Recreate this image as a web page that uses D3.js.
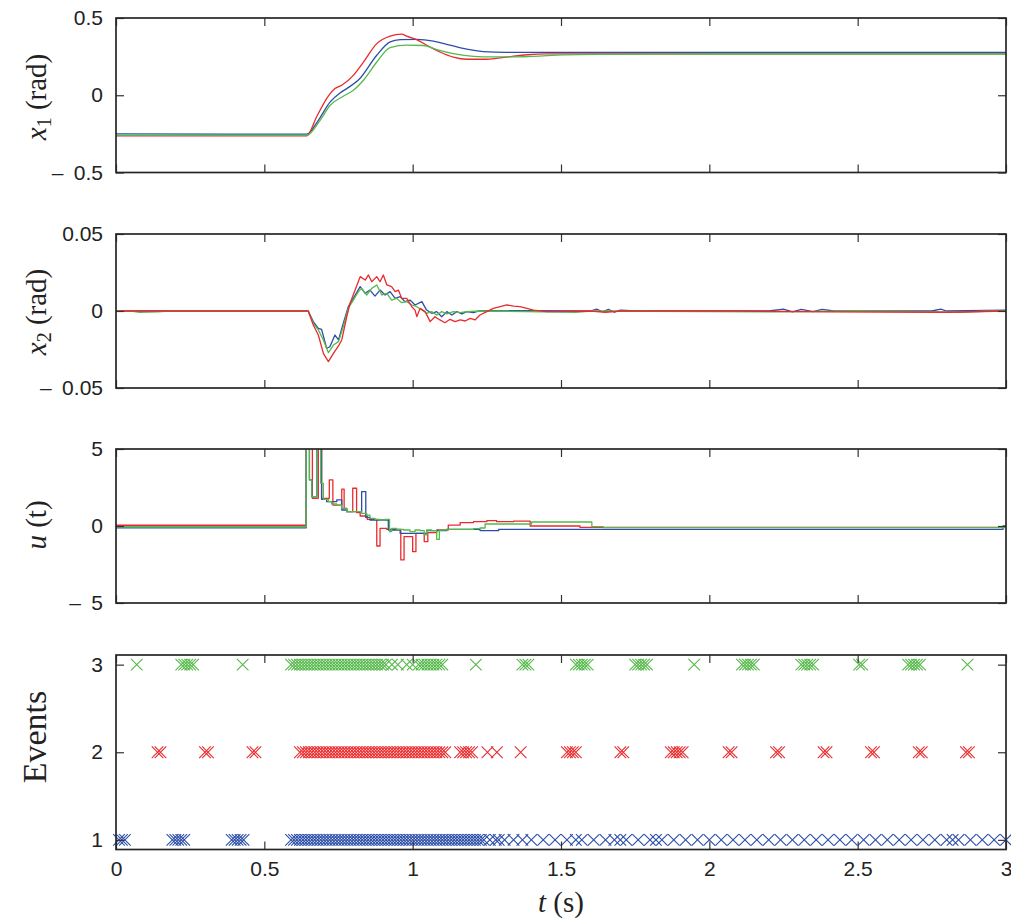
<!DOCTYPE html>
<html>
<head>
<meta charset="utf-8">
<script src="https://cdn.jsdelivr.net/npm/d3@7"></script>
<style>
  body { margin: 0; background: #fff; }
  svg { display: block; }
</style>
</head>
<body>
<svg id="chart" width="1011" height="920"></svg>
<script>
// ---------------- data ----------------
const tTicks = [0, 0.5, 1, 1.5, 2, 2.5, 3];
const tTickLabels = ["0", "0.5", "1", "1.5", "2", "2.5", "3"];

const x1Ticks = [-0.5, 0, 0.5];
const x1TickLabels = ["\u2013\u20020.5", "0", "0.5"];
const x2Ticks = [-0.05, 0, 0.05];
const x2TickLabels = ["\u2013\u20020.05", "0", "0.05"];
const uTicks = [-5, 0, 5];
const uTickLabels = ["\u2013\u20025", "0", "5"];
const evTicks = [1, 2, 3];
const evTickLabels = ["1", "2", "3"];

// angle x1 (rad): [t, value]
const x1Blue = [[0,-0.250],[0.643,-0.252],[0.682,-0.162],[0.722,-0.043],[0.755,0.015],[0.778,0.043],[0.822,0.108],[0.879,0.259],[0.924,0.345],[0.958,0.360],[1.014,0.362],[1.070,0.351],[1.126,0.324],[1.182,0.298],[1.238,0.283],[1.317,0.278],[2.0,0.278],[3.0,0.278]];
const x1Red = [[0,-0.262],[0.643,-0.262],[0.676,-0.141],[0.710,-0.022],[0.738,0.043],[0.761,0.065],[0.800,0.129],[0.834,0.215],[0.879,0.334],[0.924,0.382],[0.963,0.395],[0.980,0.382],[1.013,0.360],[1.058,0.313],[1.092,0.280],[1.137,0.247],[1.182,0.233],[1.250,0.233],[1.317,0.247],[1.385,0.262],[1.452,0.268],[2.0,0.268],[3.0,0.268]];
const x1Green = [[0,-0.260],[0.643,-0.260],[0.688,-0.162],[0.722,-0.065],[0.766,-0.006],[0.800,0.032],[0.834,0.097],[0.879,0.215],[0.924,0.309],[0.980,0.324],[1.036,0.322],[1.081,0.296],[1.137,0.270],[1.205,0.252],[1.272,0.248],[1.340,0.248],[1.407,0.252],[1.508,0.261],[1.621,0.265],[2.0,0.267],[3.0,0.267]];

// angular rate x2 (rad): [t, value]
const x2Blue = [[0,0],[0.648,0],[0.665,-0.0069],[0.682,-0.0113],[0.693,-0.0119],[0.710,-0.0242],[0.721,-0.0232],[0.738,-0.0156],[0.750,-0.0188],[0.766,-0.0080],[0.783,0.0028],[0.800,0.0082],[0.823,0.0158],[0.840,0.0115],[0.856,0.0136],[0.873,0.0097],[0.890,0.0136],[0.907,0.0104],[0.924,0.0126],[0.941,0.0082],[0.958,0.0093],[0.974,0.0061],[0.991,0.0071],[1.008,0.0039],[1.031,0.0061],[1.047,0.0006],[1.064,-0.0015],[1.081,-0.0004],[1.098,-0.0037],[1.115,-0.0004],[1.132,-0.0026],[1.149,-0.0004],[1.166,-0.0019],[1.182,-0.0004],[1.205,-0.0011],[1.227,0.0002],[1.60,0.0],[1.62,0.0012],[1.64,-0.0005],[1.66,0.0010],[1.68,-0.0008],[1.70,0.0005],[1.75,0.0],[2.20,0.0],[2.25,0.0012],[2.28,-0.0006],[2.31,0.0010],[2.35,-0.0004],[2.38,0.0011],[2.42,0.0],[2.75,0.0],[2.78,0.0012],[2.80,0.0],[3.0,0.0005]];
const x2Red = [[0,0],[0.648,0],[0.665,-0.0091],[0.682,-0.0156],[0.699,-0.0275],[0.716,-0.0329],[0.733,-0.0275],[0.750,-0.0227],[0.761,-0.0188],[0.778,-0.0037],[0.789,0.0050],[0.806,0.0136],[0.823,0.0223],[0.840,0.0201],[0.851,0.0234],[0.862,0.0190],[0.879,0.0223],[0.890,0.0190],[0.901,0.0234],[0.913,0.0169],[0.929,0.0158],[0.941,0.0126],[0.952,0.0136],[0.963,0.0082],[0.980,0.0082],[0.997,0.0028],[1.008,0.0006],[1.014,-0.0037],[1.025,0.0017],[1.042,-0.0004],[1.059,-0.0069],[1.075,-0.0037],[1.092,-0.0058],[1.109,-0.0076],[1.126,-0.0054],[1.143,-0.0069],[1.160,-0.0058],[1.177,-0.0065],[1.194,-0.0048],[1.210,-0.0058],[1.227,-0.0026],[1.250,-0.0004],[1.272,0.0017],[1.295,0.0028],[1.317,0.0039],[1.340,0.0032],[1.362,0.0028],[1.385,0.0017],[1.407,0.0006],[1.452,-0.0004],[1.60,0.0],[1.65,-0.0008],[1.70,0.0],[2.10,0.0],[2.40,-0.0006],[2.80,-0.0008],[3.0,0.0]];
const x2Green = [[0,0],[0.05,0],[0.08,-0.0008],[0.14,-0.0006],[0.18,0],[0.648,0],[0.665,-0.0080],[0.682,-0.0123],[0.699,-0.0188],[0.716,-0.0271],[0.733,-0.0221],[0.750,-0.0199],[0.766,-0.0102],[0.783,0.0017],[0.800,0.0071],[0.817,0.0126],[0.828,0.0147],[0.845,0.0104],[0.862,0.0147],[0.879,0.0169],[0.896,0.0104],[0.913,0.0115],[0.929,0.0071],[0.946,0.0082],[0.963,0.0054],[0.980,0.0061],[0.997,0.0039],[1.014,0.0028],[1.031,0.0006],[1.047,-0.0015],[1.064,-0.0004],[1.081,-0.0026],[1.098,-0.0004],[1.115,-0.0019],[1.137,-0.0004],[1.160,-0.0011],[1.182,-0.0004],[1.227,0],[1.55,-0.0008],[1.60,0],[2.20,-0.0006],[2.50,0],[2.85,-0.0008],[2.95,0],[3.0,0]];

// control input u(t), held between updates: [t, value]
const uBlue = [[0,-0.12],[0.641,6],[0.652,3.0],[0.660,1.9],[0.677,6],[0.693,1.73],[0.710,1.58],[0.744,1.69],[0.761,1.04],[0.778,0.93],[0.828,2.23],[0.842,0.56],[0.856,0.39],[0.918,-0.26],[0.958,-0.48],[1.047,-0.30],[1.115,-0.22],[1.227,-0.30],[1.290,-0.22],[2.97,-0.22],[2.99,0.0],[3.0,0.0]];
const uRed = [[0,0.05],[0.641,6],[0.662,1.8],[0.682,6],[0.693,1.8],[0.719,3.0],[0.731,1.36],[0.761,2.4],[0.769,1.15],[0.778,0.93],[0.798,2.45],[0.811,0.87],[0.823,0.65],[0.847,0.43],[0.879,-1.30],[0.890,-0.15],[0.913,-0.22],[0.960,-2.2],[0.971,-0.69],[1.000,-1.67],[1.011,-0.48],[1.039,-1.02],[1.051,-0.43],[1.081,-0.26],[1.120,0.06],[1.160,0.22],[1.205,0.28],[1.250,0.35],[1.283,0.28],[1.340,0.32],[1.396,0.0],[1.564,-0.09],[3.0,-0.09]];
const uGreen = [[0,-0.05],[0.641,6],[0.652,2.99],[0.660,1.90],[0.677,6],[0.690,2.77],[0.699,1.73],[0.716,1.58],[0.727,1.43],[0.744,1.36],[0.761,1.15],[0.778,0.93],[0.828,0.82],[0.845,0.71],[0.856,0.50],[0.873,0.43],[0.890,0.39],[0.907,0.43],[0.922,-0.37],[0.929,-0.15],[0.946,-0.22],[0.969,-0.26],[0.991,-0.37],[1.008,-0.26],[1.025,-0.30],[1.039,-0.58],[1.047,-0.26],[1.064,-0.30],[1.081,-0.87],[1.090,-0.26],[1.115,-0.22],[1.160,-0.22],[1.205,-0.17],[1.227,-0.13],[1.244,0.13],[1.401,0.26],[1.604,-0.04],[1.643,-0.10],[3.0,-0.10]];

// triggering instants of each agent
const eventsBlue = [0.01,0.02,0.03,
  0.19,0.20,0.21,0.22,0.23,
  0.39,0.40,0.41,0.42,0.43,
  0.59,0.60,0.61,0.62,0.63,0.64,0.65,0.66,0.67,0.68,0.69,0.70,0.71,0.72,0.73,0.74,0.75,0.76,0.77,0.78,0.79,0.80,0.81,0.82,0.83,0.84,0.85,0.86,0.87,0.88,0.89,0.90,0.91,0.92,0.93,0.94,0.95,0.96,0.97,0.98,0.99,1.00,1.01,1.02,1.03,1.04,1.05,1.06,1.07,1.08,1.09,1.10,1.11,1.12,1.13,1.14,1.15,1.16,1.17,1.18,1.19,1.20,1.21,1.22,1.23,1.24,
  1.26,1.28,1.29,1.31,1.34,1.37,1.40,1.44,1.48,1.52,1.55,1.57,1.61,1.65,1.68,1.70,1.72,1.76,1.80,1.82,1.84,1.88,1.92,1.96,2.00,2.04,2.08,2.12,2.16,2.20,2.24,2.28,2.32,2.36,2.40,2.44,2.48,2.52,2.56,2.60,2.64,2.68,2.72,2.76,2.80,2.82,2.84,2.88,2.92,2.96,3.00];
const eventsRed = [0.14,0.15,0.30,0.31,0.46,0.47,
  0.62,0.63,0.64,0.65,0.66,0.67,0.68,0.69,0.70,0.71,0.72,0.73,0.74,0.75,0.76,0.77,0.78,0.79,0.80,0.81,0.82,0.83,0.84,0.85,0.86,0.87,0.88,0.89,0.90,0.91,0.92,0.93,0.94,0.95,0.96,0.97,0.98,0.99,1.00,1.01,1.02,1.03,1.04,1.05,1.06,1.07,1.08,1.09,1.10,1.11,
  1.16,1.17,1.18,1.19,1.20,1.252,1.284,1.364,
  1.52,1.53,1.54,1.55,1.70,1.71,1.87,1.88,1.89,1.90,1.91,
  2.065,2.075,2.225,2.235,2.385,2.395,2.545,2.555,2.706,2.716,2.865,2.875];
const eventsGreen = [0.070,0.22,0.23,0.24,0.25,0.26,0.427,
  0.59,0.60,0.61,0.62,0.63,0.64,0.65,0.66,0.67,0.68,0.69,0.70,0.71,0.72,0.73,0.74,0.75,0.76,0.77,0.78,0.79,0.80,0.81,0.82,0.83,0.84,0.85,0.86,0.87,0.88,0.89,0.90,0.91,
  0.93,0.95,0.98,1.00,1.02,1.03,1.04,1.05,1.06,1.07,1.08,1.09,1.10,
  1.213,1.37,1.38,1.39,1.55,1.56,1.57,1.58,1.59,1.75,1.76,1.77,1.78,1.79,1.949,
  2.11,2.12,2.13,2.14,2.15,2.31,2.32,2.33,2.34,2.35,2.505,2.515,2.67,2.68,2.69,2.70,2.71,2.870];

// ---------------- drawing ----------------
const colors = { blue: "#2c4ea8", red: "#ea2a2c", green: "#55b94a" };
const svg = d3.select("#chart");
const left = 116, right = 1006;
const tickFont = "Liberation Sans, Arial, sans-serif";
const labelFont = "Liberation Serif, Times New Roman, serif";

const x = d3.scaleLinear().domain([0, 3]).range([left, right]);

const panels = [
  { top: 18,  bottom: 172.5, domain: [-0.5, 0.5], ticks: x1Ticks, labels: x1TickLabels,
    series: [[x1Blue, colors.blue], [x1Red, colors.red], [x1Green, colors.green]], curve: d3.curveMonotoneX,
    ylab: { sym: "x", sub: "1", rest: " (rad)", size: 29, cy: 97 } },
  { top: 234, bottom: 388,   domain: [-0.05, 0.05], ticks: x2Ticks, labels: x2TickLabels,
    series: [[x2Blue, colors.blue], [x2Green, colors.green], [x2Red, colors.red]], curve: d3.curveLinear,
    ylab: { sym: "x", sub: "2", rest: " (rad)", size: 29, cy: 312 } },
  { top: 449, bottom: 603,   domain: [-5, 5], ticks: uTicks, labels: uTickLabels,
    series: [[uRed, colors.red], [uBlue, colors.blue], [uGreen, colors.green]], curve: d3.curveStepAfter,
    ylab: { sym: "u", sub: "", rest: " (t)", size: 29, cy: 525 } },
  { top: 655, bottom: 849.5, domain: [0.89, 3.11], ticks: evTicks, labels: evTickLabels,
    events: [[eventsBlue, 1, colors.blue], [eventsRed, 2, colors.red], [eventsGreen, 3, colors.green]],
    ylab: { sym: "", sub: "", rest: "Events", size: 34, cy: 737 }, last: true }
];

panels.forEach((p, i) => {
  const y = d3.scaleLinear().domain(p.domain).range([p.bottom, p.top]);
  const g = svg.append("g");
  const clipId = "clip" + i;
  svg.append("clipPath").attr("id", clipId).append("rect")
    .attr("x", left).attr("y", p.top).attr("width", right - left).attr("height", p.bottom - p.top);

  if (p.series) {
    const line = d3.line().x(d => x(d[0])).y(d => y(d[1])).curve(p.curve);
    const lg = g.append("g").attr("clip-path", `url(#${clipId})`);
    p.series.forEach(([data, col]) => {
      lg.append("path").attr("d", line(data)).attr("fill", "none")
        .attr("stroke", col).attr("stroke-width", 1.3).attr("stroke-linejoin", "round");
    });
  }
  if (p.events) {
    const s = 5.8;
    p.events.forEach(([times, level, col]) => {
      g.append("g").selectAll("path").data(times).join("path")
        .attr("transform", d => `translate(${x(d)},${y(level)})`)
        .attr("d", `M${-s},${-s}L${s},${s}M${-s},${s}L${s},${-s}`)
        .attr("stroke", col).attr("stroke-width", 1.1).attr("fill", "none");
    });
  }

  // axes with inward ticks on all four sides
  const tl = 8;
  const fmtY = (d) => p.labels[p.ticks.indexOf(d)];
  const ax = [
    g.append("g").attr("transform", `translate(${left},0)`)
      .call(d3.axisLeft(y).tickValues(p.ticks).tickSize(-tl).tickPadding(13).tickFormat(fmtY)),
    g.append("g").attr("transform", `translate(${right},0)`)
      .call(d3.axisRight(y).tickValues(p.ticks).tickSize(-tl).tickFormat("")),
    g.append("g").attr("transform", `translate(0,${p.top})`)
      .call(d3.axisTop(x).tickValues(tTicks).tickSize(-tl).tickFormat("")),
    g.append("g").attr("transform", `translate(0,${p.bottom})`)
      .call(d3.axisBottom(x).tickValues(tTicks).tickSize(-tl).tickPadding(12)
        .tickFormat(p.last ? (d => tTickLabels[tTicks.indexOf(d)]) : ""))
  ];
  ax.forEach(a => {
    a.select(".domain").remove();
    a.selectAll(".tick line").attr("stroke", "#333").attr("stroke-width", 1.2);
    a.selectAll(".tick text").attr("fill", "#222").style("font-family", tickFont).style("font-size", "21px");
  });

  g.append("rect").attr("x", left).attr("y", p.top).attr("width", right - left).attr("height", p.bottom - p.top)
    .attr("fill", "none").attr("stroke", "#262626").attr("stroke-width", 1.7);

  // y label
  const txt = svg.append("text").attr("transform", `translate(46,${p.ylab.cy}) rotate(-90)`)
    .attr("text-anchor", "middle").attr("fill", "#222")
    .style("font-family", labelFont).style("font-size", p.ylab.size + "px");
  if (p.ylab.sym) txt.append("tspan").style("font-style", "italic").text(p.ylab.sym);
  if (p.ylab.sub) txt.append("tspan").attr("baseline-shift", "-25%").style("font-size", "20px").text(p.ylab.sub);
  txt.append("tspan").text(p.ylab.rest);
});

// x label
const xl = svg.append("text").attr("x", (left + right) / 2).attr("y", 912).attr("text-anchor", "middle")
  .attr("fill", "#222").style("font-family", labelFont).style("font-size", "29px");
xl.append("tspan").style("font-style", "italic").text("t");
xl.append("tspan").text(" (s)");
</script>
</body>
</html>
